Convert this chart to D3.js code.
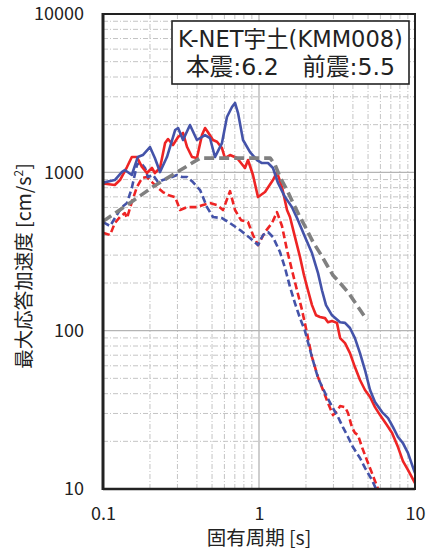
<!DOCTYPE html>
<html>
<head>
<meta charset="utf-8">
<script src="https://cdn.jsdelivr.net/npm/d3@7"></script>
<style>
  html, body { margin: 0; padding: 0; background: #fff; }
  svg { display: block; }
  text { font-family: "Noto Sans CJK JP", "Noto Sans", sans-serif; fill: #222; }
</style>
</head>
<body>
<svg id="chart" width="430" height="551"></svg>
<script>
// Response spectra, 5% damping: period [s] vs peak response acceleration [cm/s^2]
const mainRed = [
  [0.1, 850], [0.119, 832], [0.1285, 894], [0.1425, 1080], [0.153, 1249], [0.165, 1249],
  [0.178, 1080], [0.191, 990], [0.206, 1065], [0.215, 990], [0.232, 1065], [0.25, 1531],
  [0.261, 1623], [0.281, 1488], [0.303, 1671], [0.326, 1772], [0.346, 1445], [0.372, 1249],
  [0.40, 1231], [0.431, 1720], [0.451, 1905], [0.471, 1790], [0.507, 1600], [0.538, 1560],
  [0.579, 1424], [0.605, 1231], [0.652, 1286], [0.723, 1231], [0.813, 1065], [0.85, 1196],
  [0.915, 962], [0.985, 698], [1.093, 751], [1.229, 894], [1.304, 1004], [1.404, 807],
  [1.512, 578], [1.58, 522], [1.701, 390], [1.832, 292], [1.943, 224], [2.06, 180],
  [2.186, 145], [2.32, 125], [2.46, 122], [2.649, 120], [2.768, 113], [2.937, 115],
  [3.16, 112], [3.31, 89.8], [3.56, 83.5], [3.83, 72.2], [4.12, 58.9], [4.44, 48.8],
  [4.78, 42.2], [5.15, 38.1], [5.54, 32.9], [5.97, 29.3], [6.62, 25.3], [7.13, 22.6],
  [7.78, 18.4], [8.37, 15.0], [9.01, 13.2], [10, 10.9]
];
const mainBlue = [
  [0.1, 860], [0.119, 894], [0.132, 1004], [0.138, 1034], [0.153, 962], [0.167, 1249],
  [0.18, 1286], [0.2, 1445], [0.215, 1231], [0.232, 1004], [0.257, 1249], [0.29, 1850],
  [0.303, 1905], [0.326, 1600], [0.361, 1990], [0.40, 1600], [0.451, 1720], [0.485, 1647],
  [0.522, 1249], [0.579, 1531], [0.623, 2235], [0.671, 2585], [0.702, 2741], [0.734, 2369],
  [0.79, 1600], [0.876, 1343], [0.971, 1196], [1.045, 1145], [1.142, 1145], [1.229, 1065],
  [1.324, 856], [1.468, 698], [1.627, 603], [1.778, 499], [1.972, 390], [2.186, 309],
  [2.39, 231], [2.533, 180], [2.688, 145], [2.937, 125], [3.31, 113], [3.56, 112],
  [3.83, 104], [4.12, 89.8], [4.44, 72.2], [4.78, 56.4], [5.15, 42.2], [5.54, 35.4],
  [6.15, 30.6], [6.72, 28.0], [7.23, 24.6], [7.78, 21.3], [8.37, 19.5], [9.01, 16.9],
  [9.7, 13.7], [10, 12.6]
];
const foreRed = [
  [0.1, 415], [0.111, 402], [0.119, 478], [0.1285, 522], [0.138, 553], [0.1425, 514],
  [0.153, 649], [0.165, 807], [0.178, 920], [0.191, 934], [0.206, 868], [0.222, 807],
  [0.242, 751], [0.261, 719], [0.29, 698], [0.312, 578], [0.346, 603], [0.40, 603],
  [0.438, 622], [0.485, 640], [0.538, 622], [0.588, 578], [0.652, 760], [0.702, 578],
  [0.767, 499], [0.85, 485], [0.915, 402], [0.985, 347], [1.093, 420], [1.211, 478],
  [1.304, 561], [1.404, 458], [1.512, 323], [1.627, 241], [1.752, 180], [1.887, 135],
  [2.031, 96.6], [2.186, 68.1], [2.39, 50.9], [2.572, 42.2], [2.768, 34.9], [2.98, 29.3],
  [3.16, 31.0], [3.31, 33.4], [3.56, 32.9], [3.72, 30.2], [3.94, 24.6], [4.12, 22.6],
  [4.31, 21.9], [4.57, 18.4], [4.92, 15.2], [5.3, 12.6], [5.79, 10], [6.0, 9.3]
];
const foreBlue = [
  [0.1, 485], [0.111, 458], [0.1225, 537], [0.132, 603], [0.1425, 640], [0.153, 796],
  [0.165, 1112], [0.173, 1162], [0.186, 1065], [0.194, 934], [0.209, 962], [0.225, 868],
  [0.242, 894], [0.277, 934], [0.298, 962], [0.321, 934], [0.346, 934], [0.377, 868],
  [0.419, 773], [0.464, 603], [0.507, 522], [0.579, 514], [0.652, 478], [0.756, 432],
  [0.876, 385], [0.985, 347], [1.061, 402], [1.142, 420], [1.229, 390], [1.363, 314],
  [1.468, 249], [1.58, 189], [1.701, 149], [1.832, 120], [1.972, 99.4], [2.186, 68.1],
  [2.39, 50.2], [2.728, 38.1], [2.98, 32.4], [3.21, 28.5], [3.45, 24.6], [3.72, 21.3],
  [4.0, 18.4], [4.44, 15.7], [4.78, 13.6], [5.3, 11.4], [5.63, 10], [5.9, 9.4]
];
const designGray = [
  [0.1, 490], [0.142, 620], [0.209, 810], [0.312, 1030], [0.42, 1230], [1.18, 1230],
  [1.27, 1110], [1.363, 934], [1.512, 773], [1.652, 640], [1.832, 522], [2.031, 432],
  [2.218, 363], [2.46, 309], [2.73, 259], [2.98, 224], [3.31, 200], [3.72, 175], [4.92, 117]
];

const xTicks = [0.1, 1, 10];
const yTicks = [10, 100, 1000, 10000];
const titleLines = ["K-NET宇土(KMM008)", "本震:6.2\u3000前震:5.5"];

const svg = d3.select("#chart");
const L = 103, R = 415, T = 14, B = 489;
const x = d3.scaleLog().domain([0.1, 10]).range([L, R]);
const y = d3.scaleLog().domain([10, 10000]).range([B, T]);

// shrink or grow a text's font size so its rendered width equals `w`
function fitWidth(sel, w) {
  const fs = parseFloat(sel.attr("font-size"));
  const cur = sel.node().getComputedTextLength();
  if (cur > 0) sel.attr("font-size", (fs * w / cur).toFixed(2));
}

svg.append("defs").append("clipPath").attr("id", "plotClip")
  .append("rect").attr("x", L).attr("y", T).attr("width", R - L).attr("height", B - T);

// minor grid (2..9 within each decade)
const minorX = [], minorY = [];
for (const d of [0.1, 1]) for (let k = 2; k <= 9; k++) minorX.push(d * k);
for (const d of [10, 100, 1000]) for (let k = 2; k <= 9; k++) minorY.push(d * k);

const grid = svg.append("g");
grid.selectAll(".mx").data(minorX).join("line")
  .attr("x1", d => x(d)).attr("x2", d => x(d)).attr("y1", T).attr("y2", B)
  .attr("stroke", "#c4c4c4").attr("stroke-width", 1).attr("stroke-dasharray", "5,2,1,2");
grid.selectAll(".my").data(minorY).join("line")
  .attr("y1", d => y(d)).attr("y2", d => y(d)).attr("x1", L).attr("x2", R)
  .attr("stroke", "#c4c4c4").attr("stroke-width", 1).attr("stroke-dasharray", "5,2,1,2");
grid.selectAll(".Mx").data([1]).join("line")
  .attr("x1", d => x(d)).attr("x2", d => x(d)).attr("y1", T).attr("y2", B)
  .attr("stroke", "#b4b4b4").attr("stroke-width", 1.3);
grid.selectAll(".My").data([100, 1000]).join("line")
  .attr("y1", d => y(d)).attr("y2", d => y(d)).attr("x1", L).attr("x2", R)
  .attr("stroke", "#b4b4b4").attr("stroke-width", 1.3);

// spectra
const line = d3.line().x(d => x(d[0])).y(d => y(d[1]));
const plot = svg.append("g").attr("clip-path", "url(#plotClip)");
const series = [
  { data: foreRed,  color: "#ee2424", width: 2.6, dash: "7,3.5" },
  { data: foreBlue, color: "#4453a9", width: 2.6, dash: "7,3.5" },
  { data: mainRed,  color: "#ee2424", width: 2.6, dash: null },
  { data: mainBlue, color: "#4453a9", width: 2.6, dash: null },
  { data: designGray, color: "#808080", width: 3.6, dash: "10,5" }
];
series.forEach(s => {
  plot.append("path").datum(s.data).attr("d", line)
    .attr("fill", "none").attr("stroke", s.color).attr("stroke-width", s.width)
    .attr("stroke-linejoin", "round")
    .attr("stroke-dasharray", s.dash);
});

// frame
svg.append("rect").attr("x", L).attr("y", T).attr("width", R - L).attr("height", B - T)
  .attr("fill", "none").attr("stroke", "#222").attr("stroke-width", 2);
svg.append("line").attr("x1", L).attr("x2", L).attr("y1", T - 1).attr("y2", B + 1)
  .attr("stroke", "#222").attr("stroke-width", 3);
svg.append("line").attr("x1", L).attr("x2", R).attr("y1", B).attr("y2", B)
  .attr("stroke", "#222").attr("stroke-width", 2.6);

// axes
const yAxis = svg.append("g").attr("transform", `translate(${L},0)`)
  .call(d3.axisLeft(y).tickValues(yTicks).tickSize(0).tickPadding(19).tickFormat(d3.format("d")));
const xAxis = svg.append("g").attr("transform", `translate(0,${B})`)
  .call(d3.axisBottom(x).tickValues(xTicks).tickSize(0).tickPadding(18).tickFormat(d => String(d)));
[yAxis, xAxis].forEach(a => {
  a.select(".domain").remove();
  a.selectAll("text").attr("font-size", 18).attr("fill", "#222")
    .style("font-family", "'Noto Sans CJK JP', sans-serif");
});

// axis titles
svg.append("text").attr("x", (L + R) / 2).attr("y", 545).attr("text-anchor", "middle")
  .attr("font-size", 19.5).text("固有周期 [s]");
const yl = svg.append("text").attr("transform", "translate(31,266) rotate(-90)")
  .attr("text-anchor", "middle").attr("font-size", 19.5);
yl.append("tspan").text("最大応答加速度 [cm/s");
yl.append("tspan").attr("font-size", 12).attr("dy", -8).text("2");
yl.append("tspan").attr("dy", 8).text("]");

// station / magnitude box
const box = svg.append("g");
box.append("rect").attr("x", 172).attr("y", 21).attr("width", 237).attr("height", 63)
  .attr("fill", "#fff").attr("stroke", "#222").attr("stroke-width", 1.6);
const boxWidths = [225, 209];
box.selectAll("text").data(titleLines).join("text")
  .attr("x", 290.5).attr("y", (d, i) => 47 + i * 28).attr("text-anchor", "middle")
  .attr("font-size", 21)
  .style("font-family", "'DejaVu Sans', 'Noto Sans CJK JP', sans-serif")
  .text(d => d)
  .each(function (d, i) { fitWidth(d3.select(this), boxWidths[i]); });
</script>
</body>
</html>
